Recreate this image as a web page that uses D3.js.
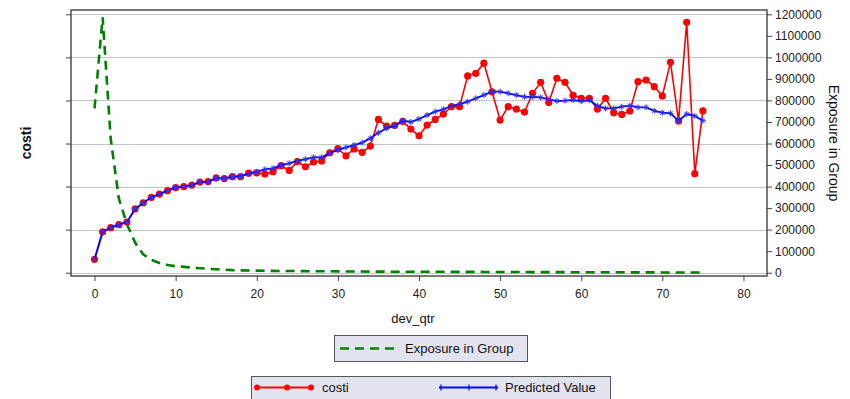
<!DOCTYPE html>
<html>
<head>
<meta charset="utf-8">
<script src="https://cdn.jsdelivr.net/npm/d3@7"></script>
<style>
  body { margin: 0; background: #fff; }
  svg text { font-family: Arial, "Liberation Sans", sans-serif; fill: #111; }
</style>
</head>
<body>
<div id="chart"></div>
<script>
// quarters of development
var devQtr = [0,1,2,3,4,5,6,7,8,9,10,11,12,13,14,15,16,17,18,19,20,21,22,23,24,25,26,27,28,29,30,31,32,33,34,35,36,37,38,39,40,41,42,43,44,45,46,47,48,49,50,51,52,53,54,55,56,57,58,59,60,61,62,63,64,65,66,67,68,69,70,71,72,73,74,75];

var costi = [62000,190000,209000,223000,235000,296000,324000,350000,365000,381000,395000,400000,407000,421000,423000,440000,437000,446000,446000,462000,
  464000,458000,469000,497000,475000,516000,492000,514000,519000,557000,576000,543000,575000,559000,588000,712000,681000,684000,703000,667000,
  636000,686000,712000,737000,771000,771000,914000,926000,973000,840000,709000,771000,760000,746000,833000,884000,791000,903000,884000,824000,
  810000,810000,760000,810000,743000,735000,751000,887000,895000,864000,821000,977000,705000,1163000,460000,752000];

var predicted = [62000,190000,209000,223000,235000,296000,324000,350000,365000,381000,395000,400000,407000,421000,423000,438000,438000,446000,448000,460000,
  469000,480000,485000,500000,508000,519000,527000,536000,536000,555000,570000,582000,593000,604000,624000,650000,671000,681000,706000,700000,
  714000,732000,748000,759000,774000,783000,794000,810000,825000,841000,841000,833000,825000,817000,817000,814000,805000,797000,799000,802000,
  796000,802000,774000,763000,763000,771000,776000,768000,768000,752000,743000,740000,705000,737000,728000,706000];

var exposure = [763000,1186000,620000,345000,225000,140000,85000,60000,45000,36000,30000,27000,24000,21000,18000,16000,14000,12000,11000,10000,
  9500,9000,8500,8000,7800,7500,7200,7000,6800,6500,6000,5800,5600,5400,5200,5000,4800,4700,4600,4500,
  4400,4300,4200,4100,4000,3900,3800,3700,3600,3500,3400,3300,3100,3000,2900,2800,2700,2600,2500,2400,
  2300,2200,2100,2000,1900,1800,1700,1600,1500,1400,1300,1200,1100,1000,1000,1000];

var xTicks = [0,10,20,30,40,50,60,70,80];
var yTicks = [0,100000,200000,300000,400000,500000,600000,700000,800000,900000,1000000,1100000,1200000];
var gridTicks = [0,200000,400000,600000,800000,1000000,1200000];

(function () {
  var width = 850, height = 399;
  var pLeft = 71, pRight = 767, pTop = 10, pBottom = 276;

  var svg = d3.select("#chart").append("svg")
    .attr("width", width)
    .attr("height", height);

  var x = d3.scaleLinear().domain([-2.9, 82.9]).range([pLeft, pRight]);
  var yL = d3.scaleLinear().domain([-15300, 1220000]).range([pBottom, pTop]);
  var yR = d3.scaleLinear().domain([-15300, 1220000]).range([pBottom, pTop]);

  // grid
  svg.append("g").selectAll("line")
    .data(gridTicks)
    .enter().append("line")
    .attr("x1", pLeft).attr("x2", pRight)
    .attr("y1", function(d) { return Math.round(yL(d)) + 0.5; })
    .attr("y2", function(d) { return Math.round(yL(d)) + 0.5; })
    .attr("stroke", "#c4c4c4")
    .attr("stroke-width", 1);

  // axes
  var axL = svg.append("g")
    .attr("transform", "translate(" + pLeft + ",0)")
    .call(d3.axisLeft(yL).tickValues(gridTicks).tickSize(5).tickFormat(""));
  var axR = svg.append("g")
    .attr("transform", "translate(" + pRight + ",0)")
    .call(d3.axisRight(yR).tickValues(yTicks).tickSize(5).tickPadding(3).tickFormat(d3.format("d")));
  var axB = svg.append("g")
    .attr("transform", "translate(0," + pBottom + ")")
    .call(d3.axisBottom(x).tickValues(xTicks).tickSize(5).tickPadding(8));

  [axL, axR, axB].forEach(function(a) {
    a.select(".domain").remove();
    a.selectAll("line").attr("stroke", "#444");
    a.selectAll("text").style("font-size", "12px").style("fill", "#222");
  });

  // frame
  svg.append("rect")
    .attr("x", pLeft).attr("y", pTop)
    .attr("width", pRight - pLeft).attr("height", pBottom - pTop)
    .attr("fill", "none")
    .attr("stroke", "#333")
    .attr("stroke-width", 1.3);

  // exposure (right axis)
  var lineExp = d3.line()
    .x(function(d, i) { return x(devQtr[i]); })
    .y(function(d) { return yR(d); });

  svg.append("path")
    .datum(exposure)
    .attr("d", lineExp)
    .attr("fill", "none")
    .attr("stroke", "#008000")
    .attr("stroke-width", 2.6)
    .attr("stroke-dasharray", "9,6");

  // costi
  var lineL = d3.line()
    .x(function(d, i) { return x(devQtr[i]); })
    .y(function(d) { return yL(d); });

  svg.append("path")
    .datum(costi)
    .attr("d", lineL)
    .attr("fill", "none")
    .attr("stroke", "#ff0000")
    .attr("stroke-width", 1.6);

  svg.append("g").selectAll("circle")
    .data(costi)
    .enter().append("circle")
    .attr("cx", function(d, i) { return x(devQtr[i]); })
    .attr("cy", function(d) { return yL(d); })
    .attr("r", 3.6)
    .attr("fill", "#ff0000");

  // predicted
  svg.append("path")
    .datum(predicted)
    .attr("d", lineL)
    .attr("fill", "none")
    .attr("stroke", "#0000ff")
    .attr("stroke-width", 1.8);

  svg.append("g").selectAll("path")
    .data(predicted)
    .enter().append("path")
    .attr("transform", function(d, i) { return "translate(" + x(devQtr[i]) + "," + yL(d) + ")"; })
    .attr("d", "M-3,0H3M0,-3V3M-2,-2L2,2M-2,2L2,-2")
    .attr("stroke", "#3030ff")
    .attr("stroke-width", 1);

  // axis titles
  svg.append("text")
    .attr("transform", "translate(31,143) rotate(-90)")
    .attr("text-anchor", "middle")
    .style("font-size", "14px")
    .style("font-weight", "bold")
    .text("costi");

  svg.append("text")
    .attr("transform", "translate(829,143) rotate(90)")
    .attr("text-anchor", "middle")
    .style("font-size", "14px")
    .text("Exposure in Group");

  svg.append("text")
    .attr("x", 413).attr("y", 323)
    .attr("text-anchor", "middle")
    .style("font-size", "13px")
    .text("dev_qtr");

  // legend 1
  var lg1 = svg.append("g");
  lg1.append("rect")
    .attr("x", 334.5).attr("y", 335.5).attr("width", 193).attr("height", 26)
    .attr("fill", "#e3e3ef").attr("stroke", "#555");
  lg1.append("line")
    .attr("x1", 340).attr("x2", 397).attr("y1", 348.5).attr("y2", 348.5)
    .attr("stroke", "#008000").attr("stroke-width", 2.6).attr("stroke-dasharray", "9,6");
  lg1.append("text")
    .attr("x", 405).attr("y", 353)
    .style("font-size", "13px")
    .text("Exposure in Group");

  // legend 2
  var lg2 = svg.append("g");
  lg2.append("rect")
    .attr("x", 251.5).attr("y", 376.5).attr("width", 359).attr("height", 30)
    .attr("fill", "#e3e3ef").attr("stroke", "#555");
  lg2.append("line")
    .attr("x1", 257).attr("x2", 312).attr("y1", 387.5).attr("y2", 387.5)
    .attr("stroke", "#ff0000").attr("stroke-width", 1.8);
  lg2.selectAll("circle")
    .data([257, 287, 311])
    .enter().append("circle")
    .attr("cx", function(d) { return d; }).attr("cy", 387.5).attr("r", 3)
    .attr("fill", "#ff0000");
  lg2.append("text")
    .attr("x", 322).attr("y", 392)
    .style("font-size", "13px")
    .text("costi");
  lg2.append("line")
    .attr("x1", 439).attr("x2", 498).attr("y1", 387.5).attr("y2", 387.5)
    .attr("stroke", "#0000ff").attr("stroke-width", 1.8);
  lg2.selectAll("path.mk")
    .data([441, 469, 496])
    .enter().append("path")
    .attr("class", "mk")
    .attr("transform", function(d) { return "translate(" + d + ",387.5)"; })
    .attr("d", "M0,-3V3")
    .attr("stroke", "#0000ff")
    .attr("stroke-width", 1.2);
  lg2.append("text")
    .attr("x", 505).attr("y", 392)
    .style("font-size", "13px")
    .text("Predicted Value");
})();
</script>
</body>
</html>
